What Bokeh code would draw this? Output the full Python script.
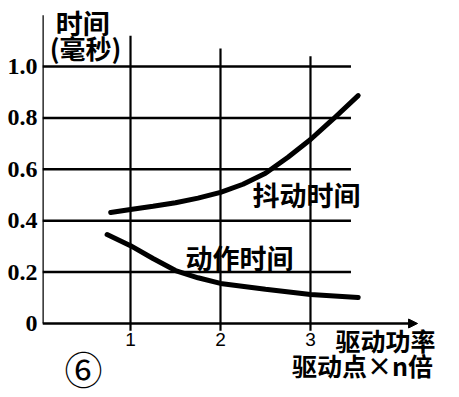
from bokeh.plotting import figure
from bokeh.models import Range1d, FixedTicker, Arrow, NormalHead
from bokeh.embed import file_html
from bokeh.resources import INLINE
from bokeh.core.properties import value

# ---- data ----
x_ticks = [1, 2, 3]
x_tick_labels = ["1", "2", "3"]
y_ticks = [0, 0.2, 0.4, 0.6, 0.8, 1.0]
y_tick_labels = ["0", "0.2", "0.4", "0.6", "0.8", "1.0"]

jitter_x = [0.78, 1.0, 1.25, 1.5, 1.75, 2.0, 2.25, 2.5, 2.75, 3.0, 3.25, 3.53]
jitter_y = [0.432, 0.444, 0.456, 0.47, 0.488, 0.51, 0.542, 0.585, 0.647, 0.716, 0.795, 0.887]

action_x = [0.74, 1.0, 1.25, 1.5, 1.75, 2.0, 2.5, 3.0, 3.53]
action_y = [0.346, 0.303, 0.253, 0.206, 0.178, 0.156, 0.133, 0.113, 0.101]

y_title = ["时间", "(毫秒)"]
x_title = ["驱动功率", "驱动点×n倍"]
jitter_name = "抖动时间"
action_name = "动作时间"
fig_no = "⑥"

# ---- figure ----
X0, X1 = 0.022, 4.656
Y0, Y1 = -0.288, 1.257
p = figure(width=459, height=397, output_backend="svg", toolbar_location=None,
           x_range=Range1d(X0, X1), y_range=Range1d(Y0, Y1),
           min_border_left=42, min_border_right=0, min_border_top=0, min_border_bottom=0)
p.outline_line_color = None
p.xgrid.grid_line_color = None
p.ygrid.grid_line_color = None
p.xaxis.visible = False
p.background_fill_color = "white"
p.border_fill_color = "white"

ay = p.yaxis[0]
ay.ticker = FixedTicker(ticks=y_ticks)
ay.major_label_overrides = dict(zip(y_ticks, y_tick_labels))
ay.axis_line_color = None
ay.major_tick_in = 0
ay.major_tick_out = 0
ay.minor_tick_line_color = None
ay.major_label_standoff = 5
ay.major_label_text_font = "Liberation Sans Narrow"
ay.major_label_text_font_style = "bold"
ay.major_label_text_font_size = "24px"
ay.major_label_text_color = "black"

# y axis line
p.segment(x0=[X0], x1=[X0], y0=[0], y1=[1.2], line_color="black", line_width=2.5)

# grid lines (hand-drawn style)
GRID_RIGHT = 3.45
hy = [t for t in y_ticks if t > 0]
p.segment(x0=[X0] * len(hy), x1=[GRID_RIGHT] * len(hy), y0=hy, y1=hy,
          line_color="black", line_width=2.5)
v_tops = [1.12, 1.07, 1.04]
p.segment(x0=x_ticks, x1=x_ticks, y0=[-0.028] * 3, y1=v_tops,
          line_color="black", line_width=2.2)

# x axis with arrow
p.add_layout(Arrow(end=NormalHead(size=9, fill_color="black", line_color="black"),
                   x_start=X0, y_start=0, x_end=4.19, y_end=0,
                   line_color="black", line_width=2.5))

# x tick labels
p.text(x=x_ticks, y=[-0.062] * 3, text=x_tick_labels, text_font=value("Liberation Sans"),
       text_font_size="19px", text_align="center", text_baseline="middle", text_color="black")

# curves
p.line(jitter_x, jitter_y, line_color="black", line_width=5, line_cap="round")
p.line(action_x, action_y, line_color="black", line_width=5, line_cap="round")

CJK = "Noto Sans CJK SC"
def lab(x, y, t, size, style="bold", align="center", font=CJK):
    p.text(x=[x], y=[y], text=[t], text_font=value(font), text_font_size=size,
           text_font_style=style, text_align=align, text_baseline="middle",
           text_color="black")

lab(0.47, 1.171, y_title[0], "27px")
lab(0.50, 1.074, y_title[1], "26px")
lab(2.956, 0.502, jitter_name, "27px")
lab(2.211, 0.257, action_name, "27px")
lab(3.833, -0.066, x_title[0], "25px")
lab(3.578, -0.163, x_title[1], "25px")
lab(0.478, -0.171, fig_no, "38px", style="normal")

open("out.html", "w").write(file_html(p, INLINE))
